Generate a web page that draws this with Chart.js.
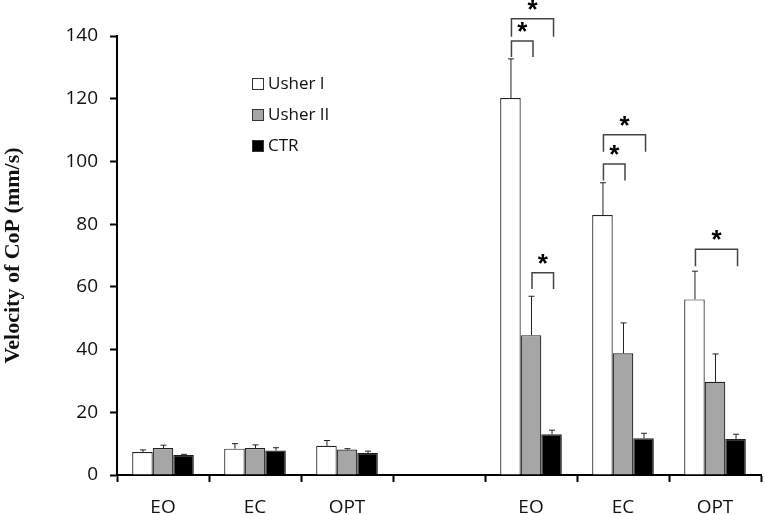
<!DOCTYPE html>
<html>
<head>
<meta charset="utf-8">
<script src="https://cdn.jsdelivr.net/npm/chart.js@4.4.1/dist/chart.umd.min.js"></script>
<style>
  html, body { margin: 0; padding: 0; background: #fff; }
  #wrap { width: 765px; height: 515px; }
</style>
</head>
<body>
<div id="wrap"><canvas id="copChart"></canvas></div>
<script>
// categories (the empty one is the gap between the two groups)
const categories = ['EO', 'EC', 'OPT', '', 'EO', 'EC', 'OPT'];
const seriesNames = ['Usher I', 'Usher II', 'CTR'];
const seriesColors = ['#ffffff', '#a6a6a6', '#000000'];

// mean values
const usher1 = [7.3, 8.4, 9.3, null, 120.2, 82.9, 56.0];
const usher2 = [8.6, 8.6, 8.1, null, 44.6, 38.8, 29.7];
const ctr = [6.4, 7.8, 7.0, null, 13.0, 11.7, 11.5];

// upper end of the error bars
const usher1Err = [8.0, 10.0, 11.0, null, 132.7, 93.2, 65.0];
const usher2Err = [9.5, 9.6, 8.4, null, 57.0, 48.5, 38.6];
const ctrErr = [6.6, 8.7, 7.6, null, 14.3, 13.3, 13.0];

const yTicks = [0, 20, 40, 60, 80, 100, 120, 140];

// significance brackets: category index, from series, to series, top value, leg bottom value
const brCat = [4, 4, 4, 5, 5, 6];
const brFrom = [0, 0, 1, 0, 0, 0];
const brTo = [1, 2, 2, 1, 2, 2];
const brTop = [138.4, 145.5, 64.5, 99.2, 108.5, 72.0];
const brBottom = [133.3, 139.8, 59.3, 93.9, 103.1, 66.6];

const errors = [usher1Err, usher2Err, ctrErr];

const overlay = {
    id: 'overlay',
    afterDatasetsDraw(chart) {
        const c = chart.ctx;
        const y = chart.scales.y;
        c.save();
        // error bars
        c.strokeStyle = '#222';
        c.lineWidth = 1;
        errors.forEach((errArr, di) => {
            const meta = chart.getDatasetMeta(di);
            errArr.forEach((e, i) => {
                if (e == null) return;
                const bar = meta.data[i];
                const top = y.getPixelForValue(e);
                c.beginPath();
                c.moveTo(bar.x + 0.5, bar.y);
                c.lineTo(bar.x + 0.5, top);
                c.moveTo(bar.x - 2.5, top);
                c.lineTo(bar.x + 3.5, top);
                c.stroke();
            });
        });
        // brackets
        c.strokeStyle = '#444';
        c.lineWidth = 1.5;
        c.fillStyle = '#000';
        c.font = 'bold 26px "Liberation Sans"';
        c.textAlign = 'center';
        c.textBaseline = 'middle';
        brCat.forEach((cat, k) => {
            const x1 = chart.getDatasetMeta(brFrom[k]).data[cat].x + 1;
            const x2 = chart.getDatasetMeta(brTo[k]).data[cat].x + 2;
            const t = y.getPixelForValue(brTop[k]);
            const b = y.getPixelForValue(brBottom[k]);
            c.beginPath();
            c.moveTo(x1, b);
            c.lineTo(x1, t);
            c.lineTo(x2, t);
            c.lineTo(x2, b);
            c.stroke();
            c.fillText('*', (x1 + x2) / 2, t - 8);
        });
        // legend
        c.font = '17px "Open Sans"';
        c.textAlign = 'left';
        c.lineWidth = 1;
        seriesNames.forEach((name, i) => {
            const cy = 84 + i * 31;
            c.fillStyle = seriesColors[i];
            c.fillRect(252.5, cy - 5.5, 11, 11);
            c.strokeStyle = '#333';
            c.strokeRect(252.5, cy - 5.5, 11, 11);
            c.fillStyle = '#111';
            c.fillText(name, 268, cy);
        });
        c.restore();
    }
};

const ctx = document.getElementById('copChart').getContext('2d');
new Chart(ctx, {
    type: 'bar',
    data: {
        labels: categories,
        datasets: [usher1, usher2, ctr].map((vals, i) => ({
            label: seriesNames[i],
            data: vals,
            backgroundColor: seriesColors[i],
            borderColor: '#222',
            borderWidth: 1.2,
            categoryPercentage: 0.67,
            barPercentage: 1.0
        }))
    },
    options: {
        responsive: true,
        maintainAspectRatio: false,
        animation: false,
        layout: { padding: { top: 36, right: 4, left: 0, bottom: 0 } },
        plugins: {
            legend: { display: false },
            tooltip: { enabled: false }
        },
        scales: {
            x: {
                afterFit: s => { s.height = 40; },
                grid: {
                    display: true,
                    offset: true,
                    drawOnChartArea: false,
                    tickLength: 7,
                    tickWidth: 2,
                    tickColor: '#000'
                },
                border: { color: '#000', width: 2 },
                ticks: {
                    color: '#111',
                    padding: 14,
                    font: { family: 'Open Sans', size: 19 }
                }
            },
            y: {
                min: 0,
                max: 140,
                afterBuildTicks: s => { s.ticks = yTicks.map(v => ({ value: v })); },
                afterFit: s => { s.width = 117; },
                grid: {
                    display: true,
                    drawOnChartArea: false,
                    tickLength: 7,
                    tickWidth: 2,
                    tickColor: '#000'
                },
                border: { color: '#000', width: 2 },
                ticks: {
                    color: '#111',
                    padding: 12,
                    font: { family: 'Open Sans', size: 19 }
                },
                title: {
                    display: true,
                    text: 'Velocity of CoP (mm/s)',
                    color: '#111',
                    padding: 0,
                    font: { family: 'Liberation Serif', size: 22, weight: 'bold' }
                }
            }
        }
    },
    plugins: [overlay]
});
</script>
</body>
</html>
